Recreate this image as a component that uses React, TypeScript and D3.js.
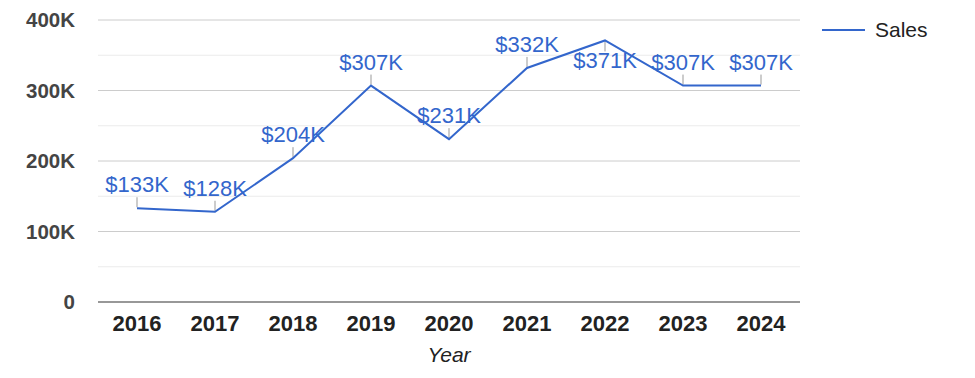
import React from "react";
import * as d3 from "d3";

const years: string[] = ["2016", "2017", "2018", "2019", "2020", "2021", "2022", "2023", "2024"];
const sales: number[] = [133000, 128000, 204000, 307000, 231000, 332000, 371000, 307000, 307000];
const yTicks: number[] = [0, 100000, 200000, 300000, 400000];
const yMinorTicks: number[] = [50000, 150000, 250000, 350000];
const seriesName = "Sales";
const xTitle = "Year";

const W = 975;
const H = 378;
const M = { left: 98, right: 800, top: 20, bottom: 302 };
const FONT = "Arial, 'Liberation Sans', sans-serif";
const BLUE = "#3366cc";

export default function App() {
  const x = d3.scaleBand<string>().domain(years).range([M.left, M.right]);
  const y = d3.scaleLinear().domain([0, 400000]).range([M.bottom, M.top]);
  const cx = (d: string) => (x(d) as number) + x.bandwidth() / 2;
  const line = d3
    .line<number>()
    .x((_, i) => cx(years[i]))
    .y((d) => y(d));
  const fmtTick = (v: number) => (v === 0 ? "0" : `${v / 1000}K`);
  const fmtLabel = (v: number) => `$${Math.round(v / 1000)}K`;

  return (
    <svg width={W} height={H} style={{ position: "absolute", left: 0, top: 0, background: "#fff" }}>
      {yMinorTicks.map((t) => (
        <line key={"m" + t} x1={M.left} x2={M.right} y1={y(t)} y2={y(t)} stroke="#ebebeb" strokeWidth={1} />
      ))}
      {yTicks.filter((t) => t !== 0).map((t) => (
        <line key={"g" + t} x1={M.left} x2={M.right} y1={y(t)} y2={y(t)} stroke="#cccccc" strokeWidth={1} />
      ))}
      <line x1={M.left} x2={M.right} y1={y(0)} y2={y(0)} stroke="#333333" strokeWidth={1.2} />
      {yTicks.map((t) => (
        <text key={"t" + t} x={75} y={y(t) + 7} textAnchor="end" fontFamily={FONT} fontSize={20.5} fontWeight="bold" fill="#444444">
          {fmtTick(t)}
        </text>
      ))}
      {years.map((yr) => (
        <text key={yr} x={cx(yr)} y={331} textAnchor="middle" fontFamily={FONT} fontSize={22} fontWeight="bold" fill="#222222">
          {yr}
        </text>
      ))}
      <text x={(M.left + M.right) / 2} y={362} textAnchor="middle" fontFamily={FONT} fontSize={21} fontStyle="italic" fill="#222222">
        {xTitle}
      </text>
      {sales.map((v, i) => {
        const px = cx(years[i]);
        const py = y(v);
        const below = py - 32 < M.top;
        return (
          <g key={"a" + i}>
            <line x1={px} x2={px} y1={below ? py : py - 1} y2={below ? py + 11 : py - 11} stroke="#999999" strokeWidth={1} />
            <text
              x={px}
              y={below ? py + 28 : py - 16}
              textAnchor="middle"
              fontFamily={FONT}
              fontSize={22}
              fill={BLUE}
            >
              {fmtLabel(v)}
            </text>
          </g>
        );
      })}
      <path d={line(sales) || ""} fill="none" stroke={BLUE} strokeWidth={2} />
      <line x1={822} x2={865} y1={30} y2={30} stroke={BLUE} strokeWidth={2} />
      <text x={875} y={37} fontFamily={FONT} fontSize={21} fill="#222222">
        {seriesName}
      </text>
    </svg>
  );
}
